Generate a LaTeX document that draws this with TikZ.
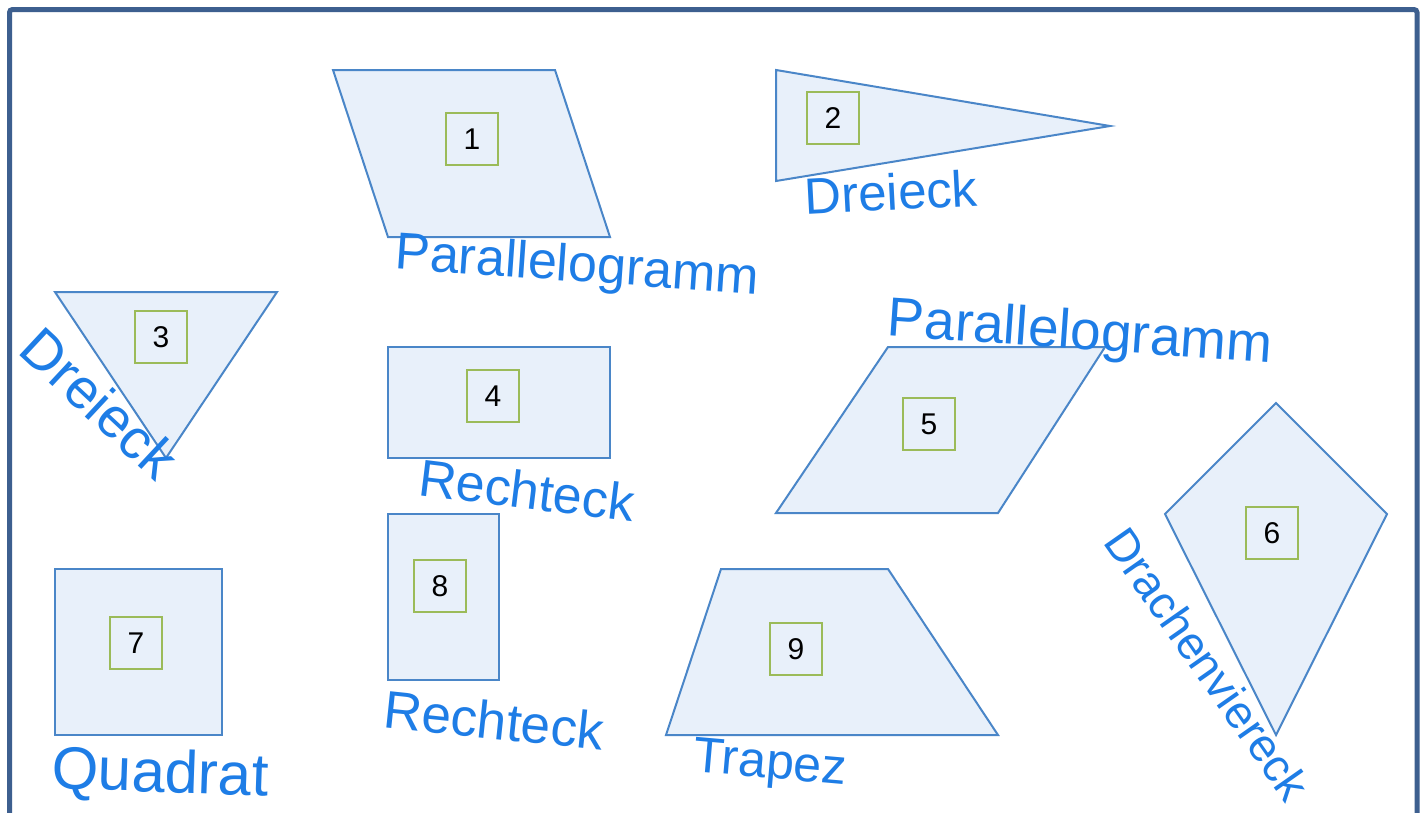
\documentclass[tikz,border=0pt]{standalone}
\usepackage{fontspec}
\setmainfont{Liberation Sans}
\definecolor{frame}{RGB}{61,95,143}
\definecolor{shapeline}{RGB}{74,134,200}
\definecolor{shapefill}{RGB}{232,240,250}
\definecolor{boxline}{RGB}{155,187,89}
\definecolor{ink}{RGB}{30,125,230}
\tikzset{
  fig/.style={draw=shapeline, fill=shapefill, line width=2pt, line join=miter},
  numbox/.style={draw=boxline, line width=1.5pt, minimum size=52pt, inner sep=0pt,
    font=\fontsize{30}{30}\selectfont},
  hand/.style={text=ink, inner sep=0pt, font=\fontsize{#1}{#1}\selectfont},
}
\begin{document}
\begin{tikzpicture}[x=1pt,y=-1pt]
\useasboundingbox (0,0) rectangle (1426,812);
\clip (0,0) rectangle (1426,812);
\fill[white] (0,0) rectangle (1426,812);
\draw[frame, line width=5pt, rounded corners=3pt] (9.5,9.5) rectangle (1417,840);

% shapes
\draw[fig] (333,70) -- (555,70) -- (610,237) -- (388,237) -- cycle;
\draw[fig] (776,70) -- (1110,126) -- (776,181) -- cycle;
\draw[fig] (55,292) -- (277,292) -- (166,458) -- cycle;
\draw[fig] (388,347) rectangle (610,458);
\draw[fig] (888,347) -- (1105,347) -- (998,513) -- (776,513) -- cycle;
\draw[fig] (1276,403) -- (1387,514) -- (1276,735) -- (1165,514) -- cycle;
\draw[fig] (55,569) rectangle (222,735);
\draw[fig] (388,514) rectangle (499,680);
\draw[fig] (721,569) -- (888,569) -- (998,735) -- (666,735) -- cycle;

% number boxes
\node[numbox] (n1) at (472,139) {1};
\node[numbox] (n2) at (833,118) {2};
\node[numbox] (n3) at (161,337) {3};
\node[numbox] (n4) at (493,396) {4};
\node[numbox] (n5) at (929,424) {5};
\node[numbox] (n6) at (1272,533) {6};
\node[numbox] (n7) at (136,643) {7};
\node[numbox] (n8) at (440,586) {8};
\node[numbox] (n9) at (796,649) {9};

% handwritten labels
\node[hand=52, rotate=-4] (l1) at (577,268) {Parallelogramm};
\node[hand=51, rotate=3] (l2) at (891,192) {Dreieck};
\node[hand=56, rotate=-43] (l3) at (100,403) {Dreieck};
\node[hand=52, rotate=-7] (l4) at (527,490) {Rechteck};
\node[hand=55, rotate=-4] (l5) at (1080,335) {Parallelogramm};
\node[hand=46, rotate=-55] (l6) at (1208,664) {Drachenviereck};
\node[hand=60, rotate=-2] (l7) at (160,776) {Quadrat};
\node[hand=53, rotate=-6] (l8) at (494,720) {Rechteck};
\node[hand=50, rotate=-5] (l9) at (770,766) {Trapez};
\end{tikzpicture}
\end{document}
